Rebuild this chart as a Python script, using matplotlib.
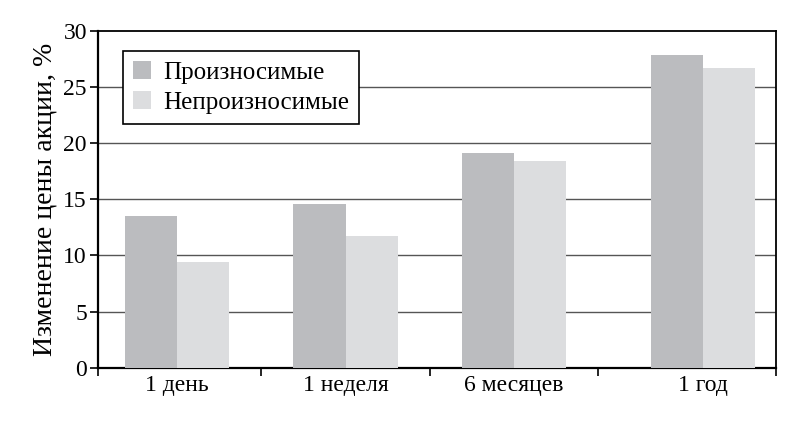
import matplotlib
matplotlib.use("Agg")
import matplotlib.pyplot as plt
import numpy as np

# === Data ===
categories = ["1 день", "1 неделя", "6 месяцев", "1 год"]
positions = [0, 1, 2, 3.12]
pronounceable = [13.5, 14.6, 19.1, 27.9]
unpronounceable = [9.4, 11.7, 18.4, 26.7]
series_names = ["Произносимые", "Непроизносимые"]
yticks = [0, 5, 10, 15, 20, 25, 30]

dark = "#bbbcbf"
light = "#dcdddf"

plt.rcParams["font.family"] = ["Liberation Serif", "DejaVu Serif"]

fig = plt.figure(figsize=(8, 4.22), dpi=100)
ax = fig.add_axes([0.1225, 0.1287, 0.8475, 0.7978])

w = 0.31
x = np.array(positions)
ax.bar(x - w / 2, pronounceable, width=w, color=dark, label=series_names[0], zorder=3)
ax.bar(x + w / 2, unpronounceable, width=w, color=light, label=series_names[1], zorder=3)

ax.set_xlim(-0.47, 3.555)
ax.set_ylim(0, 30)

# gridlines
for yv in yticks[1:-1]:
    ax.axhline(yv, color="#555555", linewidth=1.0, zorder=1)

ax.set_yticks(yticks)
ax.tick_params(axis="y", direction="out", length=6, width=1.2, labelsize=17, pad=2)

# category labels in the middle, tick marks on the group boundaries
ax.set_xticks(positions)
ax.set_xticklabels(categories, fontsize=17)
ax.tick_params(axis="x", which="major", length=0, pad=5)
ax.set_xticks([-0.47, 0.5, 1.5, 2.5, 3.555], minor=True)
ax.tick_params(axis="x", which="minor", direction="out", length=6, width=1.2)

for s in ["left", "bottom"]:
    ax.spines[s].set_linewidth(1.6)
for s in ["top", "right"]:
    ax.spines[s].set_linewidth(1.3)

ax.set_ylabel("Изменение цены акции, %", fontsize=20, labelpad=4)

leg = ax.legend(loc="upper left", bbox_to_anchor=(0.037, 0.94), fontsize=18,
                frameon=True, fancybox=False, handlelength=0.7, handleheight=0.7,
                handletextpad=0.5, borderpad=0.4, labelspacing=0.3,
                borderaxespad=0)
leg.get_frame().set_edgecolor("black")
leg.get_frame().set_linewidth(1.2)
leg.get_frame().set_alpha(1)
leg.set_zorder(5)

plt.savefig("out.png", dpi=100)
